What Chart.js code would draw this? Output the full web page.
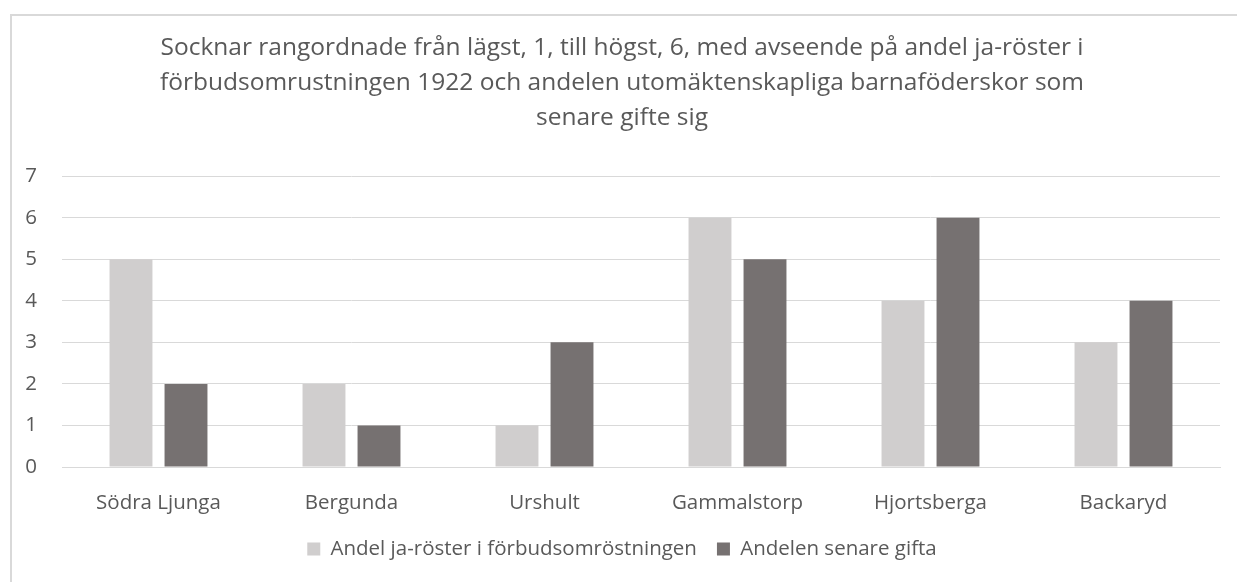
<!DOCTYPE html>
<html>
<head>
<meta charset="utf-8">
<script src="https://cdn.jsdelivr.net/npm/chart.js@4"></script>
<style>
    body { margin: 0; background: #fff; overflow: hidden; }
    #ram { position: absolute; left: 10px; top: 14px; width: 1300px; height: 700px; border: 2px solid #d9d9d9; box-sizing: border-box; }
    #wrap { position: absolute; left: 0; top: 0; width: 1237px; height: 582px; }
</style>
</head>
<body>
<div id="ram"></div>
<div id="wrap"><canvas id="diagram"></canvas></div>
<script>
// Data
const socknar = ['Södra Ljunga', 'Bergunda', 'Urshult', 'Gammalstorp', 'Hjortsberga', 'Backaryd'];
const jaRoster = [5, 2, 1, 6, 4, 3];
const senareGifta = [2, 1, 3, 5, 6, 4];
const rubrik = [
    'Socknar rangordnade från lägst, 1, till högst, 6, med avseende på andel ja-röster i',
    'förbudsomrustningen 1922 och andelen utomäktenskapliga barnaföderskor som',
    'senare gifte sig'
];

const textFarg = '#595959';
Chart.defaults.font.family = "'Open Sans', sans-serif";
Chart.defaults.color = textFarg;

new Chart(document.getElementById('diagram'), {
    type: 'bar',
    data: {
        labels: socknar,
        datasets: [{
            label: 'Andel ja-röster i förbudsomröstningen',
            data: jaRoster,
            backgroundColor: '#d0cece'
        }, {
            label: 'Andelen senare gifta',
            data: senareGifta,
            backgroundColor: '#767171'
        }]
    },
    options: {
        responsive: true,
        maintainAspectRatio: false,
        animation: false,
        layout: { padding: { left: 24, right: 17, top: 30, bottom: 12.75 } },
        datasets: { bar: { categoryPercentage: 0.57, barPercentage: 0.78 } },
        plugins: {
            title: {
                display: true,
                text: rubrik,
                color: textFarg,
                font: { size: 24.5, weight: 'normal', lineHeight: 1.43 },
                padding: { top: 0, bottom: 41 }
            },
            legend: {
                position: 'bottom',
                labels: {
                    boxWidth: 13,
                    boxHeight: 13,
                    padding: 20,
                    font: { size: 20.5 },
                    color: textFarg
                }
            },
            tooltip: { enabled: false }
        },
        scales: {
            x: {
                grid: { display: false },
                border: { display: true, color: '#d9d9d9', width: 1 },
                ticks: { font: { size: 20.5 }, color: textFarg, padding: 16 },
                afterFit: (skala) => { skala.height = 51.75; }
            },
            y: {
                min: 0,
                max: 7,
                ticks: { stepSize: 1, font: { size: 20.5 }, color: textFarg, padding: 25 },
                grid: { color: '#d9d9d9', lineWidth: 1, drawTicks: false },
                border: { display: false },
                afterFit: (skala) => { skala.width = 38; }
            }
        }
    }
});
</script>
</body>
</html>
